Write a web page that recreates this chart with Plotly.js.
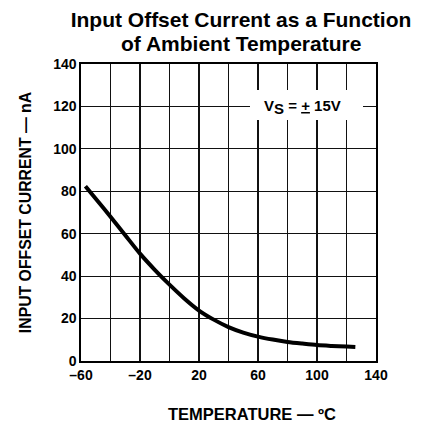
<!DOCTYPE html>
<html>
<head>
<meta charset="utf-8">
<script src="https://cdn.plot.ly/plotly-3.0.1.min.js"></script>
<style>html,body{margin:0;padding:0;background:#fff;}#chart{width:423px;height:428px;}</style>
</head>
<body>
<div id="chart"></div>
<script>
const temperature = [-57, -50, -40, -30, -20, -10, 0, 10, 20, 30, 40, 50, 60, 70, 80, 90, 100, 110, 120, 126];
const offsetCurrent = [82.4, 76.5, 68, 59.3, 50.6, 43, 36, 29.5, 23.8, 19.5, 16, 13.4, 11.5, 10.1, 9.0, 8.2, 7.5, 7.1, 6.8, 6.6];
const xTickVals = [-60, -40, -20, 0, 20, 40, 60, 80, 100, 120, 140];
const xTickText = ['–60', '', '–20', '', '20', '', '60', '', '100', '', '140'];
const yTickVals = [0, 20, 40, 60, 80, 100, 120, 140];
const yTickText = ['0', '20', '40', '60', '80', '100', '120', '140'];
const titleLine1 = 'Input Offset Current as a Function';
const titleLine2 = 'of Ambient Temperature';
const xTitle = 'TEMPERATURE — ºC';
const yTitle = 'INPUT OFFSET CURRENT — nA';
const noteText = 'V<sub><span style="font-size:15px">S</span></sub> = <u>+</u> 15V';

const bold = t => t === '' ? '' : '<b>' + t + '</b>';
const font = 'Liberation Sans, Arial, sans-serif';
const data = [{
  x: temperature, y: offsetCurrent, type: 'scatter', mode: 'lines',
  line: {color: '#000', width: 4, shape: 'spline', smoothing: 0.8}, hoverinfo: 'skip'
}];
const L = 81, R = 47, T = 64, B = 67, W = 423, H = 428;
const pw = W - L - R, ph = H - T - B;
const px = X => (X - L) / pw;
const py = Y => (H - B - Y) / ph;
const layout = {
  width: W, height: H,
  margin: {l: L, r: R, t: T, b: B},
  paper_bgcolor: '#fff', plot_bgcolor: '#fff',
  showlegend: false,
  title: {text: bold(titleLine1),
          font: {family: font, size: 21, color: '#000'}, x: 241 / W, xanchor: 'center',
          yref: 'container', y: 1 - 20 / H, yanchor: 'middle'},
  xaxis: {
    range: [-60, 140], tickmode: 'array', tickvals: xTickVals, ticktext: xTickText.map(bold),
    showgrid: true, gridcolor: '#111', gridwidth: 1.2, zeroline: false,
    showline: true, linecolor: '#000', linewidth: 1.6, mirror: true, ticks: '',
    tickfont: {family: font, size: 14, color: '#000'}, ticklabelstandoff: 1
  },
  yaxis: {
    range: [0, 140], tickmode: 'array', tickvals: yTickVals, ticktext: yTickText.map(bold),
    showgrid: true, gridcolor: '#111', gridwidth: 1.2, zeroline: false,
    showline: true, linecolor: '#000', linewidth: 1.6, mirror: true, ticks: '',
    tickfont: {family: font, size: 14, color: '#000'},
    title: {text: bold(yTitle), font: {family: font, size: 15.8, color: '#000'}, standoff: 18}
  },
  shapes: [{
    type: 'rect', xref: 'paper', yref: 'paper', layer: 'above',
    x0: px(250), x1: px(363), y0: py(120), y1: py(90),
    fillcolor: '#fff', line: {width: 0}
  }],
  annotations: [{
    xref: 'paper', yref: 'paper', x: px(241), y: py(43),
    xanchor: 'center', yanchor: 'middle', showarrow: false,
    text: bold(titleLine2), font: {family: font, size: 21, color: '#000'}
  }, {
    xref: 'paper', yref: 'paper', x: px(251.5), y: py(414),
    xanchor: 'center', yanchor: 'middle', showarrow: false,
    text: bold(xTitle), font: {family: font, size: 16.5, color: '#000'}
  }, {
    xref: 'paper', yref: 'paper', x: px(302), y: py(107),
    xanchor: 'center', yanchor: 'middle', showarrow: false,
    text: bold(noteText), font: {family: font, size: 15, color: '#000'}
  }]
};
Plotly.newPlot('chart', data, layout, {displayModeBar: false, staticPlot: true});
</script>
</body>
</html>
